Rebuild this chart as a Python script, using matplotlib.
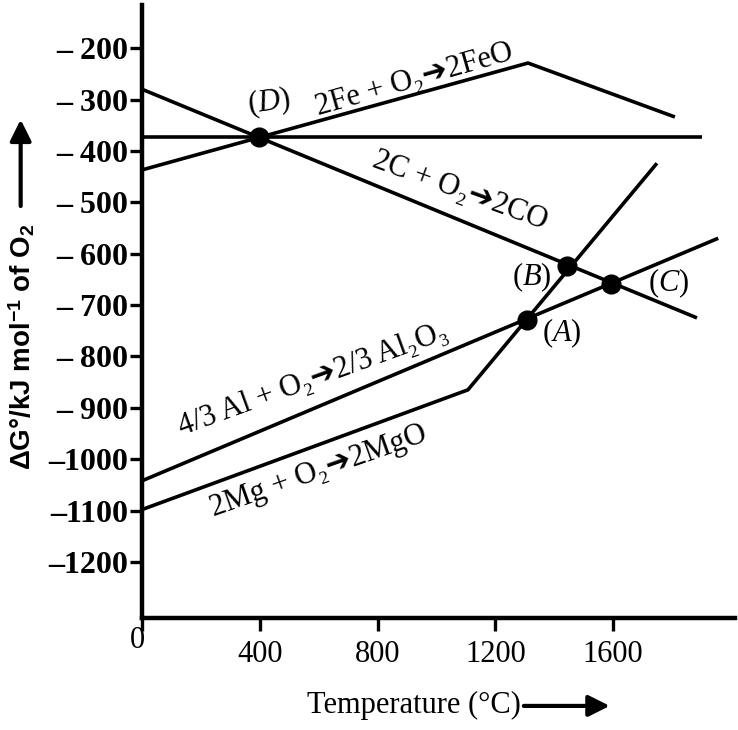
import matplotlib
matplotlib.use("Agg")
import matplotlib.pyplot as plt
from matplotlib.transforms import ScaledTranslation

plt.rcParams['font.family'] = ['Liberation Serif', 'DejaVu Sans']
plt.rcParams['mathtext.fontset'] = 'custom'
plt.rcParams['mathtext.rm'] = 'Liberation Serif'
plt.rcParams['mathtext.it'] = 'Liberation Serif:italic'
plt.rcParams['mathtext.bf'] = 'Liberation Serif:bold'
plt.rcParams['mathtext.sf'] = 'Liberation Sans:bold'

# ---- data (temperature in °C, ΔG° in kJ/mol of O2) ----
fe_T = [0, 1311, 1810]
fe_G = [-437, -229, -334]
co2_T = [0, 1902]
co2_G = [-373, -373]
co_T = [0, 1885]
co_G = [-280, -725]
al_T = [0, 1957]
al_G = [-1042, -570]
mg_T = [0, 1107, 1749]
mg_G = [-1098, -865, -424]

pt_names = ['D', 'A', 'B', 'C']
pt_T = [397, 1308, 1444, 1593]
pt_G = [-373, -729, -624, -659]

x_ticks = [0, 400, 800, 1200, 1600]
x_ticklabels = ['0', '400', '800', '1200', '1600']
y_ticks = [-200, -300, -400, -500, -600, -700, -800, -900, -1000, -1100, -1200]
y_ticklabels = ['– 200', '– 300', '– 400', '– 500', '– 600', '– 700',
                '– 800', '– 900', '–1000', '–1100', '–1200']

fig = plt.figure(figsize=(7.38, 7.30), dpi=100)
ax = fig.add_axes([0.1924, 0.1534, 0.8035, 0.8398])

lw = 2.6
for T, G in [(fe_T, fe_G), (co2_T, co2_G), (co_T, co_G), (al_T, al_G), (mg_T, mg_G)]:
    ax.plot(T, G, color='black', lw=lw, solid_capstyle='butt', clip_on=False)

ax.plot(pt_T, pt_G, 'o', color='black', markersize=13.5, zorder=5, clip_on=False)

ax.set_xlim(0, 2014)
ax.set_ylim(-1309, -116)
ax.set_xticks(x_ticks)
ax.set_xticklabels(x_ticklabels)
ax.set_yticks(y_ticks)
ax.set_yticklabels(y_ticklabels, fontweight='bold')

for s in ['top', 'right']:
    ax.spines[s].set_visible(False)
for s in ['left', 'bottom']:
    ax.spines[s].set_linewidth(3.2)

ax.tick_params(axis='both', direction='out', length=9, width=2.4, colors='black')
ax.tick_params(axis='y', pad=1, labelsize=23)
ax.tick_params(axis='x', pad=7, labelsize=22)
lbl0 = ax.get_xticklabels()[0]
lbl0.set_transform(lbl0.get_transform() + ScaledTranslation(-3 / 72, 10 / 72, fig.dpi_scale_trans))

fs = 22
arr = '➔'
ax.text(432, -305, r'($\mathit{D}$)', fontsize=fs, ha='center', va='center', rotation=8)
ax.text(925, -262, '2Fe + O₂' + arr + '2FeO', fontsize=fs, ha='center', va='center', rotation=16)
ax.text(1080, -478, '2C + O₂' + arr + '2CO', fontsize=fs, ha='center', va='center', rotation=-20)
ax.text(583, -846, '4/3 Al + O₂' + arr + '2/3 Al₂O₃', fontsize=fs, ha='center', va='center', rotation=20)
ax.text(600, -1023, '2Mg + O₂' + arr + '2MgO', fontsize=fs, ha='center', va='center', rotation=19.5)
ax.text(1427, -754, r'($\mathit{A}$)', fontsize=fs, ha='center', va='center')
ax.text(1325, -645, r'($\mathit{B}$)', fontsize=fs, ha='center', va='center')
ax.text(1787, -657, r'($\mathit{C}$)', fontsize=fs, ha='center', va='center')

# axis labels with arrows
fig.text(0.030, 0.525, r'ΔG°/kJ mol$^{\mathsf{-1}}$ of O$_{\mathsf{2}}$', rotation=90,
         fontsize=20, fontweight='bold', family='Liberation Sans', ha='center', va='center')
ax.annotate('', xy=(0.028, 0.840), xytext=(0.028, 0.714), xycoords='figure fraction',
            textcoords='figure fraction',
            arrowprops=dict(arrowstyle='-|>', lw=3, color='black', mutation_scale=32))
fig.text(0.561, 0.034, 'Temperature (°C)', fontsize=22, ha='center', va='center')
ax.annotate('', xy=(0.830, 0.033), xytext=(0.706, 0.033), xycoords='figure fraction',
            textcoords='figure fraction',
            arrowprops=dict(arrowstyle='-|>', lw=3, color='black', mutation_scale=32))

fig.savefig('out.png', dpi=100)
